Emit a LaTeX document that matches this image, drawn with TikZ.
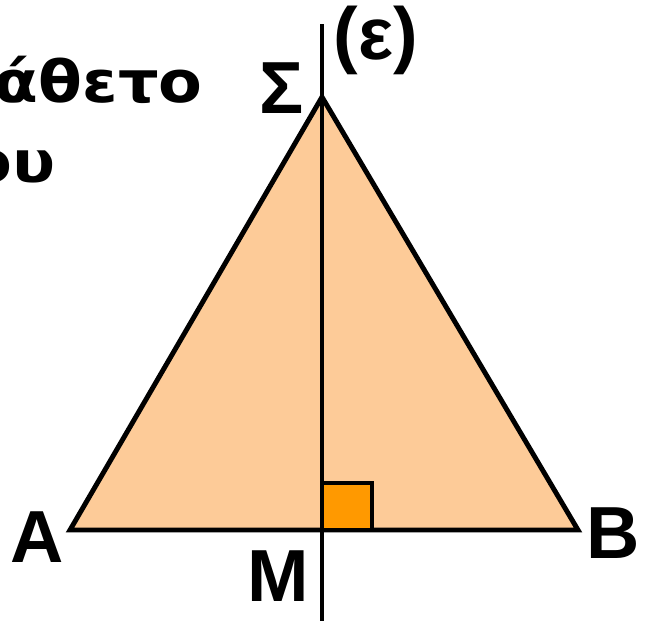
\documentclass[tikz,border=0pt]{standalone}
\usepackage{fontspec}
\setmainfont{Liberation Sans}
\newfontfamily\notefont[FakeStretch=1.1]{DejaVu Sans}
\usepackage{tikz}
\usetikzlibrary{positioning, calc}
\definecolor{mypeach}{RGB}{253,203,152}
\definecolor{myorange}{RGB}{255,153,0}
\tikzset{
  edge/.style={line width=2.8pt, color=black, line join=miter},
  vlabel/.style={font=\fontsize{42}{48}\selectfont\bfseries, inner sep=0pt},
  note/.style={font=\notefont\fontsize{33}{38}\selectfont\bfseries, inner sep=0pt, anchor=base east}
}
\begin{document}
\begin{tikzpicture}[x=0.02cm, y=-0.02cm]
  \useasboundingbox (0,0) rectangle (645,626);

  % Points
  \coordinate (A) at (70,530);
  \coordinate (B) at (578,530);
  \coordinate (S) at (322,97);
  \coordinate (M) at (322,530);
  \coordinate (top) at (322,24);
  \coordinate (bot) at (322,621);

  % Triangle
  \filldraw[edge, fill=mypeach] (A) -- (B) -- (S) -- cycle;

  % Right angle marker
  \filldraw[edge, fill=myorange] (M) rectangle ++(50,-47);

  % Perpendicular bisector
  \draw[edge] (top) -- (bot);

  % Labels
  \node[vlabel] (lA) at (37,537) {A};
  \node[vlabel] (lB) at (613,533) {B};
  \node[vlabel] (lM) at (278,576) {M};
  \node[vlabel] (lS) at (282,88) {Σ};
  \node[vlabel] (le) at (376,40) {(ε)};

  % Cut text
  \node[note] (t1) at (203,102) {κάθετο};
  \node[note] (t2) at (56,182) {ου};
\end{tikzpicture}
\end{document}
